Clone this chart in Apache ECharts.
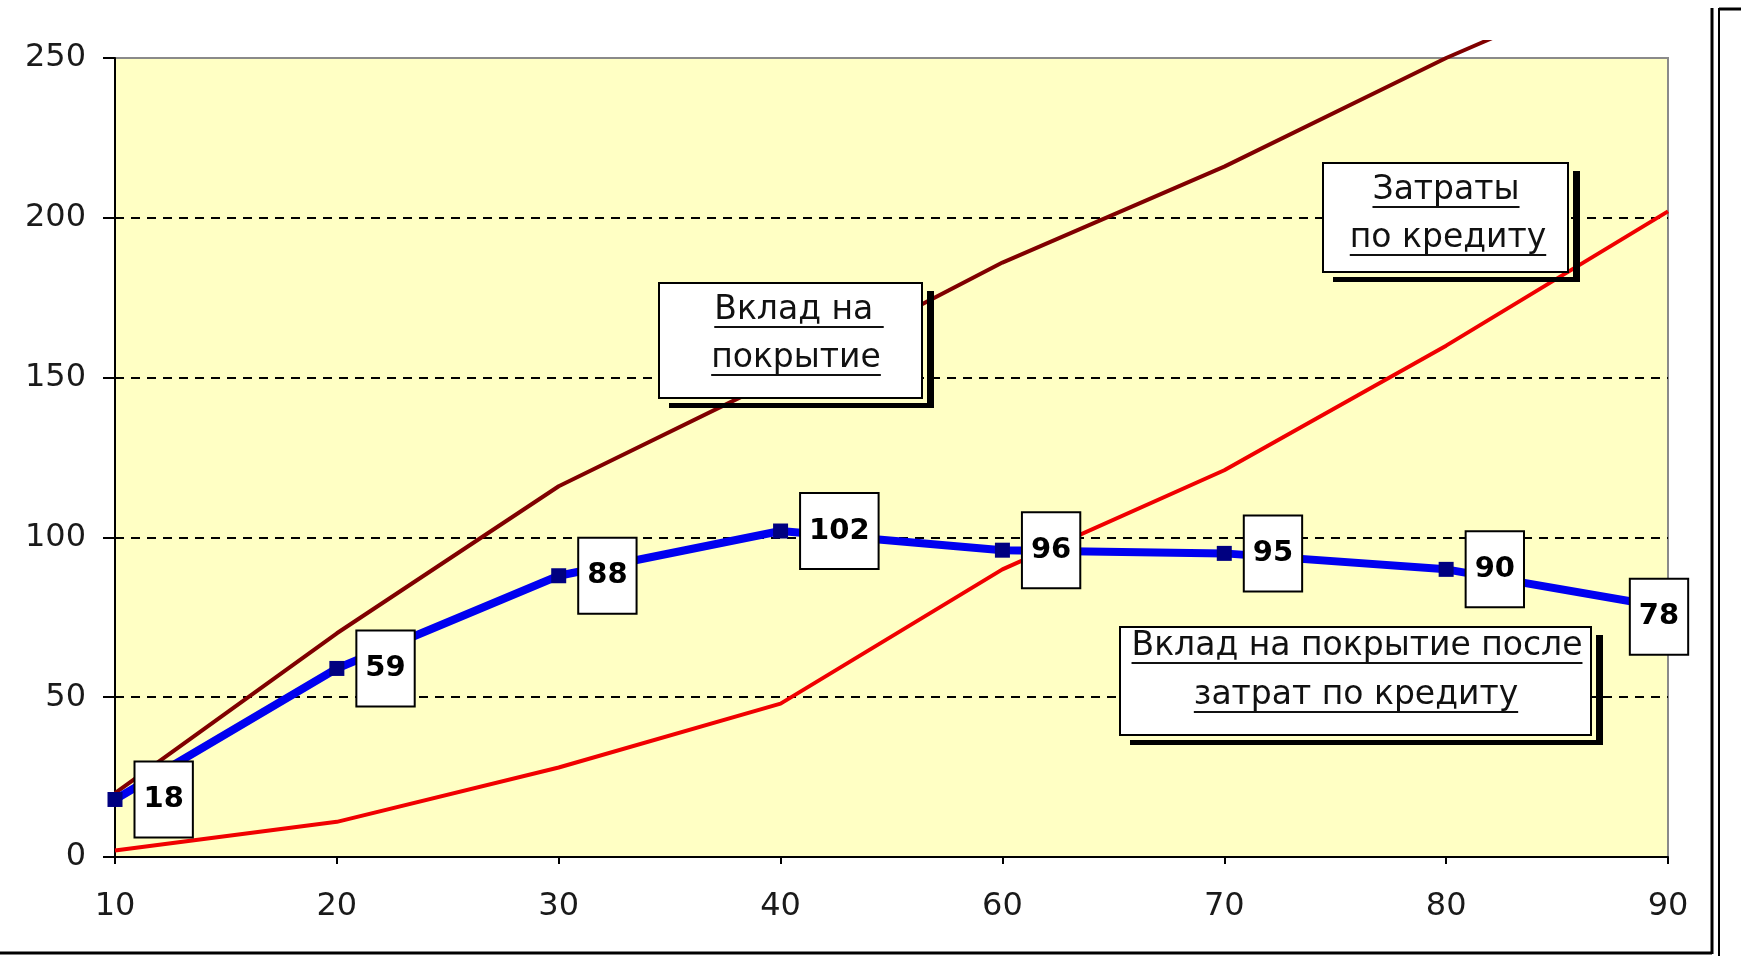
<!DOCTYPE html>
<html>
<head>
<meta charset="utf-8">
<script src="https://cdn.jsdelivr.net/npm/echarts@6/dist/echarts.min.js"></script>
<style>
html,body{margin:0;padding:0;background:#fff;}
#chart{width:1741px;height:956px;}
</style>
</head>
<body>
<div id="chart"></div>
<script>
// ---- data ----
const categories = ['10', '20', '30', '40', '60', '70', '80', '90'];
const contribution = [20, 70, 116, 150, 186, 216, 250, 280];      // Вклад на покрытие
const creditCosts = [2, 11, 28, 48, 90, 121, 160, 202];           // Затраты по кредиту
const netContribution = [18, 59, 88, 102, 96, 95, 90, 78];        // Вклад на покрытие после затрат по кредиту
const yMin = 0, yMax = 250, yStep = 50;

const annotations = [
  { box: [659, 283, 263, 115], lines: [['Вклад на ', 799, 322], ['покрытие', 796, 370]] },
  { box: [1323, 163, 245, 109], lines: [['Затраты', 1446, 202], ['по кредиту', 1448, 250]] },
  { box: [1120, 627, 471, 108], lines: [['Вклад на покрытие после', 1357, 658], ['затрат по кредиту', 1356, 707]] }
];

// ---- build ----
const FONT = '"DejaVu Sans", sans-serif';
const annFontSize = 33;
const measureCtx = document.createElement('canvas').getContext('2d');
measureCtx.font = annFontSize + 'px "DejaVu Sans"';

const graphics = [];
annotations.forEach(a => {
  const [x, y, w, h] = a.box;
  graphics.push({ type: 'rect', z: 40, shape: { x: x + w + 5, y: y + 8, width: 7, height: h + 1 }, style: { fill: '#000' } });
  graphics.push({ type: 'rect', z: 40, shape: { x: x + 10, y: y + h + 5, width: w + 2, height: 5 }, style: { fill: '#000' } });
  graphics.push({ type: 'rect', z: 41, shape: { x: x, y: y, width: w, height: h }, style: { fill: '#fff', stroke: '#000', lineWidth: 2 } });
  a.lines.forEach(([t, cx, base]) => {
    const tw = measureCtx.measureText(t).width;
    graphics.push({ type: 'text', z: 42, style: { text: t, x: cx, y: base - 12, font: annFontSize + 'px ' + FONT, fill: '#111', align: 'center', verticalAlign: 'middle' } });
    graphics.push({ type: 'line', z: 42, shape: { x1: cx - tw / 2, y1: base + 5, x2: cx + tw / 2, y2: base + 5 }, style: { stroke: '#111', lineWidth: 2 } });
  });
});
// cover above the chart area where the line leaves the picture
graphics.push({ type: 'rect', z: 50, shape: { x: 1300, y: 0, width: 441, height: 40 }, style: { fill: '#fff' } });
// outer frame
graphics.push({ type: 'line', z: 60, shape: { x1: 0, y1: 953, x2: 1712, y2: 953 }, style: { stroke: '#000', lineWidth: 3 } });
graphics.push({ type: 'line', z: 60, shape: { x1: 1712, y1: 8, x2: 1712, y2: 954 }, style: { stroke: '#000', lineWidth: 3 } });
graphics.push({ type: 'line', z: 60, shape: { x1: 1719, y1: 8, x2: 1719, y2: 956 }, style: { stroke: '#000', lineWidth: 2 } });
graphics.push({ type: 'line', z: 60, shape: { x1: 1719, y1: 9, x2: 1741, y2: 9 }, style: { stroke: '#000', lineWidth: 3 } });

const netData = netContribution.map((v, i) => i === netContribution.length - 1
  ? { value: v, label: { position: 'inside', offset: [-9, 9] } }
  : v);

const chart = echarts.init(document.getElementById('chart'), null, { renderer: 'canvas' });
chart.setOption({
  backgroundColor: '#fff',
  animation: false,
  grid: {
    left: 115, right: 73, top: 58, bottom: 99,
    show: true, backgroundColor: '#FFFFC4', borderColor: '#8a8a8a', borderWidth: 2
  },
  xAxis: {
    type: 'category', data: categories, boundaryGap: false,
    axisLine: { lineStyle: { color: '#000', width: 2 } },
    axisTick: { show: true, length: 7, lineStyle: { color: '#000', width: 2 } },
    axisLabel: { margin: 34, color: '#1a1a1a', fontFamily: FONT, fontSize: 32 },
    splitLine: { show: false }
  },
  yAxis: {
    type: 'value', min: yMin, max: yMax, interval: yStep,
    axisLine: { show: true, lineStyle: { color: '#000', width: 2 } },
    axisTick: { show: true, length: 12, lineStyle: { color: '#000', width: 2 } },
    axisLabel: { margin: 29, color: '#1a1a1a', fontFamily: FONT, fontSize: 32 },
    splitLine: { show: true, showMaxLine: false, showMinLine: false, lineStyle: { color: '#000', width: 2, type: [9, 7] } }
  },
  series: [
    {
      name: 'Затраты по кредиту', type: 'line', data: creditCosts,
      symbol: 'none', lineStyle: { color: '#f00000', width: 4 }, z: 3
    },
    {
      name: 'Вклад на покрытие', type: 'line', data: contribution, clip: false,
      symbol: 'none', lineStyle: { color: '#800000', width: 4 }, z: 4
    },
    {
      name: 'Вклад на покрытие после затрат по кредиту', type: 'line', data: netData,
      symbol: 'rect', symbolSize: 15,
      itemStyle: { color: '#000080' },
      lineStyle: { color: '#0000f0', width: 8 }, z: 5,
      label: {
        show: true, position: 'right', distance: 13, formatter: '{c}',
        color: '#000', fontFamily: FONT, fontWeight: 'bold', fontSize: 29, lineHeight: 30,
        backgroundColor: '#fff', borderColor: '#000', borderWidth: 2, padding: [22, 8, 22, 8]
      }
    }
  ],
  graphic: graphics
});
</script>
</body>
</html>
